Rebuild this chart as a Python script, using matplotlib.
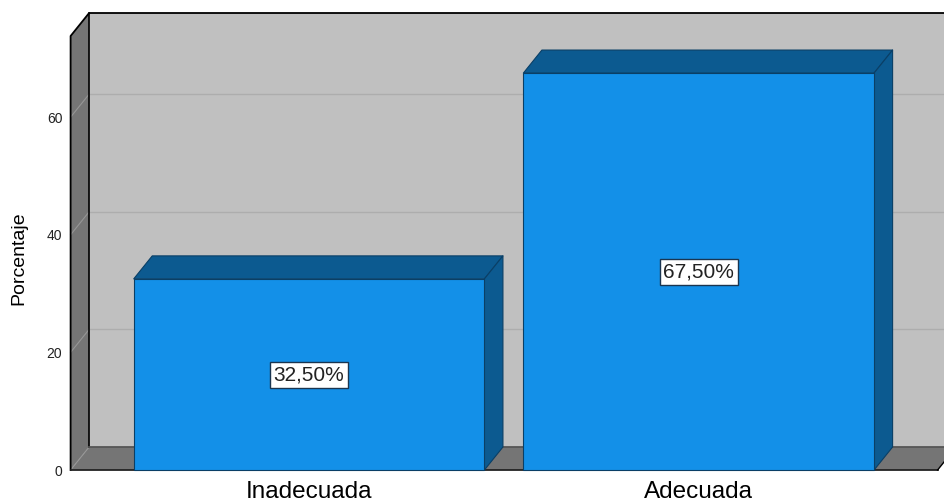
#!/usr/bin/env python3
"""Pseudo-3D bar chart of adequacy percentages."""
import numpy as np
import matplotlib; matplotlib.use("Agg")
import matplotlib.pyplot as plt
from matplotlib.patches import Polygon

plt.rcParams["font.family"] = ["Liberation Sans", "DejaVu Sans"]

categories = ["Inadecuada", "Adecuada"]
values = [32.5, 67.5]
bar_labels = ["32,50%", "67,50%"]
yticks = [0, 20, 40, 60]

W, H = 944, 504
BAR = "#1390E8"; DARK = "#0C5A90"; WALL = "#C0C0C0"; SIDE = "#757575"; GRID = "#ADADAD"
bar_w = 0.9
xlim = (-0.612, 1.613); ylim = (0, 73.8)
dx = 0.0475; dy = 3.91   # depth offset in data units

fig = plt.figure(figsize=(W / 100, H / 100), dpi=100)
ax = fig.add_axes([70.6 / W, 1 - 470 / H, (937.6 - 70.6) / W, (470 - 36) / H])
ax.set_xlim(*xlim); ax.set_ylim(*ylim)
for s in ax.spines.values():
    s.set_visible(False)
ax.patch.set_visible(False)

def poly(pts, fc, ec="none", lw=0, z=1):
    ax.add_patch(Polygon(pts, closed=True, facecolor=fc, edgecolor=ec, linewidth=lw,
                         clip_on=False, zorder=z, joinstyle="round"))

x0, x1 = xlim; top = ylim[1]
# back wall, left wall, floor
poly([(x0 + dx, dy), (x1 + dx, dy), (x1 + dx, top + dy), (x0 + dx, top + dy)], WALL, z=1)
poly([(x0, 0), (x0 + dx, dy), (x0 + dx, top + dy), (x0, top)], SIDE, z=1)
poly([(x0, 0), (x1, 0), (x1 + dx, dy), (x0 + dx, dy)], SIDE, z=1)

# gridlines wrap from the left wall on to the back wall
for t in yticks:
    ax.plot([x0, x0 + dx], [t, t + dy], color="#969696", lw=0.8, clip_on=False, zorder=2)
    if t > 0:
        ax.plot([x0 + dx, x1 + dx], [t + dy, t + dy], color=GRID, lw=1.0, clip_on=False, zorder=2)

# frame edges
ax.plot([x0, x0, x0 + dx, x1 + dx], [0, top, top + dy, top + dy], color="black", lw=1.3,
        clip_on=False, zorder=3, solid_joinstyle="round")
ax.plot([x0 + dx, x0 + dx], [dy, top + dy], color="black", lw=1.2, clip_on=False, zorder=3)
ax.plot([x0 + dx, x1 + dx], [dy, dy], color="#555555", lw=1.3, clip_on=False, zorder=3)
ax.plot([x0, x1], [0, 0], color="#222222", lw=1.3, clip_on=False, zorder=3)
ax.plot([x1, x1 + dx], [0, dy], color="black", lw=1.0, clip_on=False, zorder=3)

# bars
for i, (v, lab) in enumerate(zip(values, bar_labels)):
    l, r = i - bar_w / 2, i + bar_w / 2
    poly([(l, 0), (r, 0), (r, v), (l, v)], BAR, ec="#0A3F66", lw=0.8, z=5)
    poly([(l, v), (r, v), (r + dx, v + dy), (l + dx, v + dy)], DARK, ec="#0A3F66", lw=0.8, z=4)
    poly([(r, 0), (r + dx, dy), (r + dx, v + dy), (r, v)], DARK, ec="#0A3F66", lw=0.8, z=4)
    ax.annotate(lab, xy=(i, v / 2), xytext=(0, -0.5), textcoords="offset points",
                ha="center", va="center", fontsize=15, color="#222222", zorder=6,
                bbox=dict(boxstyle="square,pad=0.16", fc="white", ec="#1A3550", lw=1.0))

ax.set_xticks(range(len(categories)))
ax.set_xticklabels(categories, fontsize=17.5, color="black")
ax.set_yticks(yticks)
ax.set_yticklabels([str(t) for t in yticks], fontsize=10, color="#222222")
ax.tick_params(axis="x", length=0, pad=8)
ax.tick_params(axis="y", length=0, pad=6)
ax.set_ylabel("Porcentaje", fontsize=14, labelpad=0)
ax.yaxis.set_label_coords((28 - 71) / (938 - 71), (470 - 258) / (470 - 36))

fig.savefig("out.png", dpi=100)
